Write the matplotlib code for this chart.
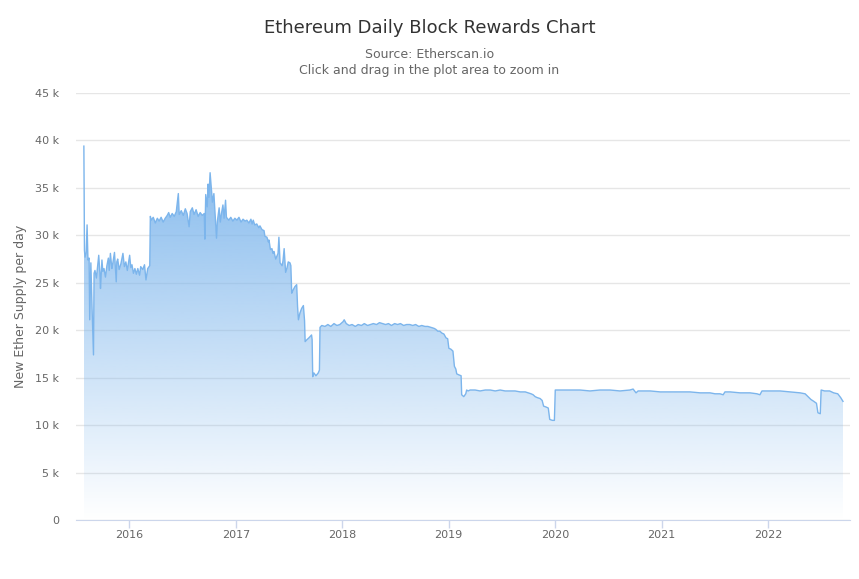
import numpy as np
import pandas as pd
import matplotlib
matplotlib.use("Agg")
import matplotlib.pyplot as plt
import matplotlib.dates as mdates
from matplotlib.patches import PathPatch

# daily block rewards (ETH)
dates = [
    "2015-07-30", "2015-08-01", "2015-08-03", "2015-08-07", "2015-08-10", "2015-08-13",
    "2015-08-17", "2015-08-19", "2015-08-23", "2015-08-27", "2015-09-01", "2015-09-03",
    "2015-09-06", "2015-09-11", "2015-09-19", "2015-09-23", "2015-09-25", "2015-09-30",
    "2015-10-03", "2015-10-07", "2015-10-12", "2015-10-17", "2015-10-22", "2015-10-25",
    "2015-10-29", "2015-11-03", "2015-11-06", "2015-11-12", "2015-11-18", "2015-11-20",
    "2015-11-23", "2015-11-28", "2015-12-04", "2015-12-11", "2015-12-16", "2015-12-21",
    "2015-12-26", "2016-01-03", "2016-01-07", "2016-01-11", "2016-01-16", "2016-01-21",
    "2016-01-26", "2016-01-31", "2016-02-06", "2016-02-10", "2016-02-17", "2016-02-23",
    "2016-02-28", "2016-03-05", "2016-03-12", "2016-03-14", "2016-03-17", "2016-03-24",
    "2016-03-31", "2016-04-07", "2016-04-13", "2016-04-20", "2016-04-27", "2016-05-04",
    "2016-05-11", "2016-05-16", "2016-05-21", "2016-05-28", "2016-06-04", "2016-06-11",
    "2016-06-18", "2016-06-21", "2016-06-28", "2016-07-05", "2016-07-12", "2016-07-18",
    "2016-07-25", "2016-07-29", "2016-08-05", "2016-08-11", "2016-08-18", "2016-08-25",
    "2016-09-01", "2016-09-08", "2016-09-15", "2016-09-17", "2016-09-20", "2016-09-25",
    "2016-09-28", "2016-10-01", "2016-10-05", "2016-10-10", "2016-10-13", "2016-10-18",
    "2016-10-27", "2016-10-30", "2016-11-05", "2016-11-09", "2016-11-13", "2016-11-18",
    "2016-11-22", "2016-11-27", "2016-11-30", "2016-12-08", "2016-12-15", "2016-12-22",
    "2016-12-29", "2017-01-05", "2017-01-12", "2017-01-19", "2017-01-26", "2017-02-02",
    "2017-02-08", "2017-02-15", "2017-02-22", "2017-02-26", "2017-03-02", "2017-03-07",
    "2017-03-14", "2017-03-21", "2017-03-25", "2017-04-01", "2017-04-08", "2017-04-11",
    "2017-04-18", "2017-04-23", "2017-04-25", "2017-04-30", "2017-05-05", "2017-05-09",
    "2017-05-12", "2017-05-18", "2017-05-26", "2017-05-29", "2017-06-02", "2017-06-09",
    "2017-06-12", "2017-06-16", "2017-06-21", "2017-06-26", "2017-06-30", "2017-07-06",
    "2017-07-09", "2017-07-12", "2017-07-16", "2017-07-23", "2017-07-29", "2017-08-01",
    "2017-08-04", "2017-08-09", "2017-08-15", "2017-08-21", "2017-08-25", "2017-08-27",
    "2017-09-02", "2017-09-09", "2017-09-18", "2017-09-20", "2017-09-22", "2017-09-26",
    "2017-10-03", "2017-10-11", "2017-10-15", "2017-10-17", "2017-10-23", "2017-11-03",
    "2017-11-13", "2017-11-23", "2017-12-04", "2017-12-14", "2017-12-24", "2018-01-04",
    "2018-01-08", "2018-01-15", "2018-01-25", "2018-02-04", "2018-02-15", "2018-02-25",
    "2018-03-08", "2018-03-18", "2018-03-29", "2018-04-08", "2018-04-18", "2018-04-29",
    "2018-05-09", "2018-05-20", "2018-05-30", "2018-06-09", "2018-06-19", "2018-06-30",
    "2018-07-10", "2018-07-20", "2018-07-31", "2018-08-10", "2018-08-21", "2018-08-31",
    "2018-09-10", "2018-09-21", "2018-10-01", "2018-10-12", "2018-10-22", "2018-11-01",
    "2018-11-12", "2018-11-18", "2018-11-25", "2018-12-02", "2018-12-09", "2018-12-16",
    "2018-12-23", "2018-12-29", "2019-01-02", "2019-01-09", "2019-01-16", "2019-01-21",
    "2019-01-26", "2019-01-29", "2019-02-05", "2019-02-13", "2019-02-15", "2019-02-22",
    "2019-03-01", "2019-03-04", "2019-03-09", "2019-03-16", "2019-04-02", "2019-04-19",
    "2019-05-07", "2019-05-24", "2019-06-10", "2019-06-27", "2019-07-14", "2019-07-31",
    "2019-08-17", "2019-09-04", "2019-09-21", "2019-10-01", "2019-10-11", "2019-10-18",
    "2019-10-25", "2019-11-01", "2019-11-11", "2019-11-18", "2019-11-23", "2019-12-02",
    "2019-12-09", "2019-12-14", "2019-12-23", "2019-12-30", "2020-01-02", "2020-01-17",
    "2020-02-21", "2020-03-27", "2020-04-30", "2020-06-03", "2020-07-08", "2020-08-11",
    "2020-09-14", "2020-09-25", "2020-10-05", "2020-10-12", "2020-11-23", "2020-12-27",
    "2021-01-30", "2021-03-05", "2021-04-08", "2021-05-13", "2021-06-16", "2021-07-03",
    "2021-07-20", "2021-07-31", "2021-08-06", "2021-08-24", "2021-09-27", "2021-10-31",
    "2021-11-24", "2021-12-04", "2021-12-11", "2022-01-07", "2022-02-11", "2022-03-17",
    "2022-04-21", "2022-05-08", "2022-05-18", "2022-05-28", "2022-06-07", "2022-06-16",
    "2022-06-21", "2022-06-29", "2022-07-02", "2022-07-14", "2022-07-31", "2022-08-14",
    "2022-08-28", "2022-09-07", "2022-09-15",
]

rewards_k = [
    39.4, 28.4, 27.7, 28.2, 31.1, 27.4,
    27.6, 21.1, 27.1, 22.4, 17.4, 26.0,
    26.3, 25.5, 27.9, 26.0, 24.4, 27.4,
    26.2, 26.5, 25.6, 26.8, 27.6, 26.3,
    28.1, 26.5, 27.0, 28.2, 25.1, 27.2,
    27.5, 26.4, 27.0, 28.1, 26.7, 27.2,
    26.3, 27.9, 26.6, 26.9, 26.0, 26.5,
    25.9, 26.5, 25.8, 26.7, 26.4, 26.9,
    25.3, 26.5, 26.8, 32.0, 31.6, 31.9,
    31.3, 31.8, 31.5, 31.9, 31.4, 31.8,
    32.1, 32.4, 31.9, 32.3, 32.0, 32.5,
    34.4, 32.2, 32.6, 32.1, 32.8, 32.3,
    30.9, 32.5, 32.9, 32.2, 32.7, 32.0,
    32.4, 32.1, 32.3, 29.6, 34.3, 33.0,
    35.4, 34.0, 36.6, 34.6, 33.5, 34.4,
    29.7, 31.5, 32.9, 31.4, 32.3, 33.2,
    31.8, 33.7, 31.9, 31.6, 31.9, 31.5,
    31.8, 31.6, 31.9, 31.4, 31.7, 31.5,
    31.6, 31.3, 31.7, 31.2, 31.6, 31.1,
    31.2, 30.8, 31.0, 30.6, 30.5, 29.9,
    29.8, 29.3, 29.5, 28.5, 28.6, 28.1,
    28.3, 27.5, 28.1, 29.8, 27.1, 26.8,
    27.3, 28.6, 26.1, 26.6, 27.2, 27.1,
    26.8, 23.9, 24.2, 24.6, 24.8, 22.5,
    21.1, 21.8, 22.3, 22.6, 21.0, 18.8,
    19.0, 19.2, 19.5, 19.0, 15.1, 15.5,
    15.2, 15.5, 15.8, 20.3, 20.5, 20.4,
    20.6, 20.4, 20.7, 20.5, 20.6, 20.9,
    21.1, 20.7, 20.5, 20.6, 20.4, 20.6,
    20.5, 20.7, 20.5, 20.6, 20.7, 20.6,
    20.8, 20.7, 20.6, 20.7, 20.5, 20.7,
    20.6, 20.7, 20.5, 20.6, 20.6, 20.5,
    20.6, 20.4, 20.5, 20.4, 20.4, 20.3,
    20.2, 20.1, 19.9, 19.9, 19.7, 19.6,
    19.2, 19.1, 18.1, 18.0, 17.8, 16.2,
    15.9, 15.4, 15.3, 15.2, 13.2, 13.0,
    13.3, 13.7, 13.6, 13.7, 13.7, 13.6,
    13.7, 13.7, 13.6, 13.7, 13.6, 13.6,
    13.6, 13.5, 13.5, 13.4, 13.3, 13.2,
    13.0, 12.9, 12.8, 12.6, 12.0, 11.9,
    11.8, 10.6, 10.5, 10.5, 13.7, 13.7,
    13.7, 13.7, 13.6, 13.7, 13.7, 13.6,
    13.7, 13.8, 13.4, 13.6, 13.6, 13.5,
    13.5, 13.5, 13.5, 13.4, 13.4, 13.3,
    13.3, 13.2, 13.5, 13.5, 13.4, 13.4,
    13.3, 13.2, 13.6, 13.6, 13.6, 13.5,
    13.4, 13.3, 13.0, 12.7, 12.5, 12.3,
    11.3, 11.2, 13.7, 13.6, 13.6, 13.4,
    13.3, 12.9, 12.5,
]

ytick_vals = [0, 5000, 10000, 15000, 20000, 25000, 30000, 35000, 40000, 45000]
ytick_labels = ["0", "5 k", "10 k", "15 k", "20 k", "25 k", "30 k", "35 k", "40 k", "45 k"]
years = [2016, 2017, 2018, 2019, 2020, 2021, 2022]

x = mdates.date2num(pd.to_datetime(dates))
y = np.array(rewards_k) * 1000

fig = plt.figure(figsize=(8.59, 5.79), dpi=100)
ax = fig.add_axes([76 / 859, 1 - 520 / 579, 774 / 859, 427 / 579])

xmin = mdates.date2num(pd.Timestamp("2015-07-03"))
xmax = mdates.date2num(pd.Timestamp("2022-10-09"))
ax.set_xlim(xmin, xmax)
ax.set_ylim(0, 45000)

# gradient fill under the line
poly = ax.fill_between(x, y, 0, color="none", lw=0)
top = y.max()
grad = np.linspace(1, 0, 256).reshape(-1, 1)
rgba = np.zeros((256, 1, 4))
rgba[..., 0] = 124 / 255
rgba[..., 1] = 181 / 255
rgba[..., 2] = 236 / 255
rgba[..., 3] = grad * 0.95
im = ax.imshow(rgba, extent=[x[0], x[-1], 0, top], aspect="auto", origin="upper", zorder=2)
path = poly.get_paths()[0]
im.set_clip_path(PathPatch(path, transform=ax.transData, facecolor="none"))

ax.plot(x, y, color="#7cb5ec", lw=1.0, zorder=3)

# grid and axes styling
ax.set_yticks(ytick_vals)
ax.set_yticklabels(ytick_labels)
ax.yaxis.grid(True, color="#e6e6e6", lw=1)
ax.set_axisbelow(True)
ax.tick_params(axis="y", length=0, pad=12, labelsize=8, labelcolor="#666666")
for s in ["top", "right", "left"]:
    ax.spines[s].set_visible(False)
ax.spines["bottom"].set_color("#ccd6eb")

ax.set_xticks([mdates.date2num(pd.Timestamp(f"{yr}-01-01")) for yr in years])
ax.set_xticklabels([str(yr) for yr in years])
ax.tick_params(axis="x", length=6, width=1, color="#ccd6eb", pad=1, labelsize=8, labelcolor="#666666")

ax.set_ylabel("New Ether Supply per day", fontsize=9, color="#666666", labelpad=6)

fig.text(0.5, 1 - 28 / 579, "Ethereum Daily Block Rewards Chart", ha="center", va="center",
         fontsize=13, color="#333333")
fig.text(0.5, 1 - 55 / 579, "Source: Etherscan.io", ha="center", va="center", fontsize=9, color="#666666")
fig.text(0.5, 1 - 70 / 579, "Click and drag in the plot area to zoom in", ha="center", va="center",
         fontsize=9, color="#666666")

fig.savefig("out.png", dpi=100)
